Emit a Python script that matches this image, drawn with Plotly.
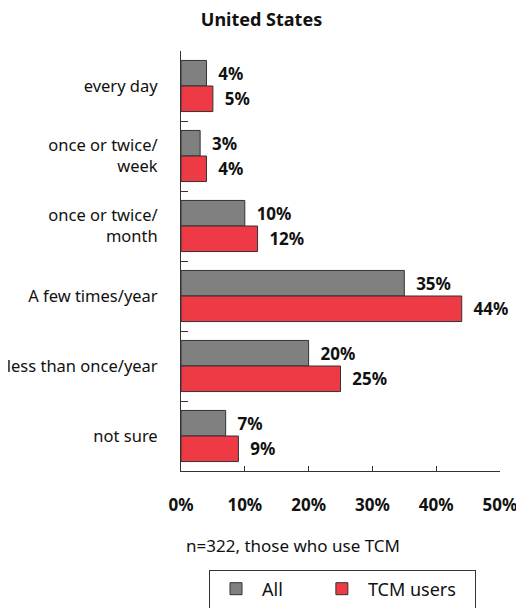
import plotly.graph_objects as go

categories = ["every day", "once or twice/<br>week", "once or twice/<br>month",
              "A few times/year", "less than once/year", "not sure"]
all_vals = [4, 3, 10, 35, 20, 7]
tcm_vals = [5, 4, 12, 44, 25, 9]
x_ticks = [0, 10, 20, 30, 40, 50]
x_tick_labels = ["0%", "10%", "20%", "30%", "40%", "50%"]
series_names = ["All", "TCM users"]

FONT = "Noto Sans"
INK = "#111111"
NBSP = "\u00a0"

# the page body has an 8px margin: figure is 516x600 placed at (8, 8)
W, H = 516, 600
ML, MR, MT, MB = 173, 24, 43, 137
PLOT_H = H - MT - MB


def py(page_y):
    return (H + 8 - MB - page_y) / PLOT_H


def px(page_x):
    return (page_x - 8 - ML) / (W - ML - MR)


fig = go.Figure()
fig.add_trace(go.Bar(
    y=categories, x=all_vals, orientation="h", name=series_names[0] + NBSP * 6,
    marker=dict(color="#808080", line=dict(color="#333333", width=1)),
    text=[f"{NBSP}{NBSP}{v}%" for v in all_vals], textposition="outside",
    textfont=dict(family=FONT, size=17, color=INK, weight="bold"),
    cliponaxis=False,
))
fig.add_trace(go.Bar(
    y=categories, x=tcm_vals, orientation="h", name=series_names[1] + NBSP * 3,
    marker=dict(color="#EE3A44", line=dict(color="#333333", width=1)),
    text=[f"{NBSP}{NBSP}{v}%" for v in tcm_vals], textposition="outside",
    textfont=dict(family=FONT, size=17, color=INK, weight="bold"),
    cliponaxis=False,
))

fig.update_layout(
    width=W, height=H,
    margin=dict(l=ML, r=MR, t=MT, b=MB, autoexpand=False),
    barmode="group", bargap=0.27, bargroupgap=0,
    plot_bgcolor="white", paper_bgcolor="white",
    font=dict(family=FONT, size=16, color=INK),
    title=dict(text="<b>United States</b>", x=(261.5 - 8) / W, xanchor="center",
               y=1 - 12 / H, yanchor="middle",
               font=dict(family=FONT, size=18, color=INK)),
    xaxis=dict(range=[0, 50], tickvals=x_ticks, ticktext=x_tick_labels,
               showgrid=False, zeroline=False, showline=True, linecolor="#333333",
               linewidth=1, ticks="inside", ticklen=5, tickcolor="#333333",
               ticklabelstandoff=19, automargin=False,
               tickfont=dict(family=FONT, size=17, color=INK, weight="bold")),
    yaxis=dict(autorange="reversed", showgrid=False, zeroline=False, showline=True,
               linecolor="#333333", linewidth=1, ticks="inside", tickson="boundaries",
               ticklen=7, tickcolor="#333333", ticklabelstandoff=19,
               automargin=False,
               tickfont=dict(family=FONT, size=16.5, color=INK)),
    showlegend=True,
    legend=dict(orientation="h", x=px(209), xanchor="left", y=py(589),
                yanchor="middle", itemwidth=42,
                bordercolor="#333333", borderwidth=1, bgcolor="white",
                font=dict(family=FONT, size=18, color=INK),
                traceorder="normal"),
    annotations=[dict(text="n=322, those who use TCM", xref="paper", yref="paper",
                      x=px(293), y=py(545), xanchor="center",
                      yanchor="middle", showarrow=False,
                      font=dict(family=FONT, size=17, color=INK))],
)

fig.write_html("out.html")
